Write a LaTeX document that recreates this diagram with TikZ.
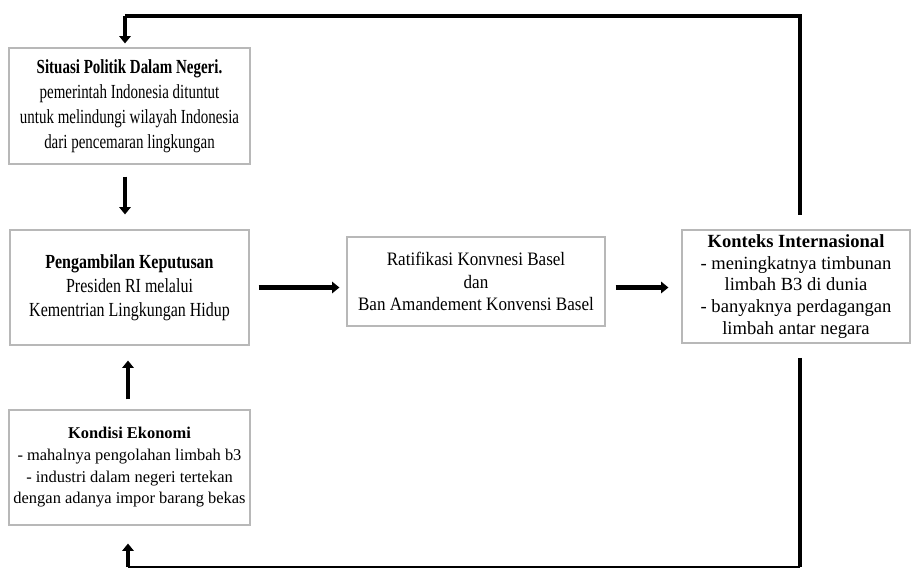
\documentclass[tikz,border=0pt]{standalone}
\usepackage{fontspec}
\setmainfont{Liberation Serif}
\newfontfamily\narrowA[FakeStretch=0.75]{Liberation Serif}
\newfontfamily\narrowB[FakeStretch=0.8]{Liberation Serif}
\newfontfamily\narrowC[FakeStretch=0.9]{Liberation Serif}
\usetikzlibrary{arrows.meta}
\definecolor{boxgray}{rgb}{0.72,0.72,0.72}

\tikzset{
  box/.style={draw=boxgray, line width=0.8pt, align=center, inner sep=2pt},
  flow/.style={line width=3.2pt, -{Triangle[length=1.8mm,width=2.8mm]}},
  loopline/.style={line width=3.5pt}
}

\begin{document}
\begin{tikzpicture}[x=0.025cm,y=-0.025cm]
    \useasboundingbox (0,0) rectangle (911,569);
    % the boxes
    \node[box, minimum width=6.025cm, minimum height=2.9cm, font=\narrowA\fontsize{14.2}{17.8}\selectfont] (politik) at (129.5,106)
      {\textbf{Situasi Politik Dalam Negeri.}\\pemerintah Indonesia dituntut\\untuk melindungi wilayah Indonesia\\dari pencemaran lingkungan};
    \node[box, minimum width=5.975cm, minimum height=2.875cm, font=\narrowB\fontsize{14.2}{17.1}\selectfont] (keputusan) at (129.5,287.5)
      {\textbf{Pengambilan Keputusan}\\Presiden RI melalui\\Kementrian Lingkungan Hidup};
    \node[box, minimum width=6.025cm, minimum height=2.875cm, font=\fontsize{11.7}{15.4}\selectfont] (ekonomi) at (129.5,467.5)
      {\textbf{Kondisi Ekonomi}\\- mahalnya pengolahan limbah b3\\- industri dalam negeri tertekan\\dengan adanya impor barang bekas};
    \node[box, minimum width=6.45cm, minimum height=2.225cm, font=\narrowC\fontsize{13.5}{16}\selectfont] (ratifikasi) at (476,281.5)
      {Ratifikasi Konvnesi Basel\\dan\\Ban Amandement Konvensi Basel};
    \node[box, minimum width=5.7cm, minimum height=2.825cm, font=\fontsize{13.2}{15.4}\selectfont] (konteks) at (796,286.5)
      {\textbf{Konteks Internasional}\\- meningkatnya timbunan\\limbah B3 di dunia\\- banyaknya perdagangan\\limbah antar negara};

    % the loop round the picture
    \coordinate (ktop) at (800,215);
    \coordinate (kbot) at (800,358);
    \coordinate (ptop) at (125,16);
    \coordinate (br) at (800,567);
    \coordinate (bl) at (128,567);
    \draw[loopline] (ktop) |- (ptop);
    \draw[flow, shorten >=0.1cm] (ptop) -- (ptop |- politik.north);
    \draw[loopline] (kbot) -- (br);
    \draw[line width=1.2pt] (br) -- (bl);
    \draw[flow, shorten >=0.45cm] (bl) -- (bl |- ekonomi.south);

    % the arrows between the boxes
    \draw[flow, shorten <=0.3cm, shorten >=0.375cm] (politik.south -| ptop) -- (keputusan.north -| ptop);
    \draw[flow, shorten <=0.25cm, shorten >=0.375cm] (ekonomi.north -| bl) -- (keputusan.south -| bl);
    \draw[flow, shorten <=0.225cm, shorten >=0.175cm] (keputusan.east) -- (keputusan.east -| ratifikasi.west);
    \draw[flow, shorten <=0.25cm, shorten >=0.325cm] (ratifikasi.east |- keputusan.east) -- (keputusan.east -| konteks.west);
\end{tikzpicture}
\end{document}
